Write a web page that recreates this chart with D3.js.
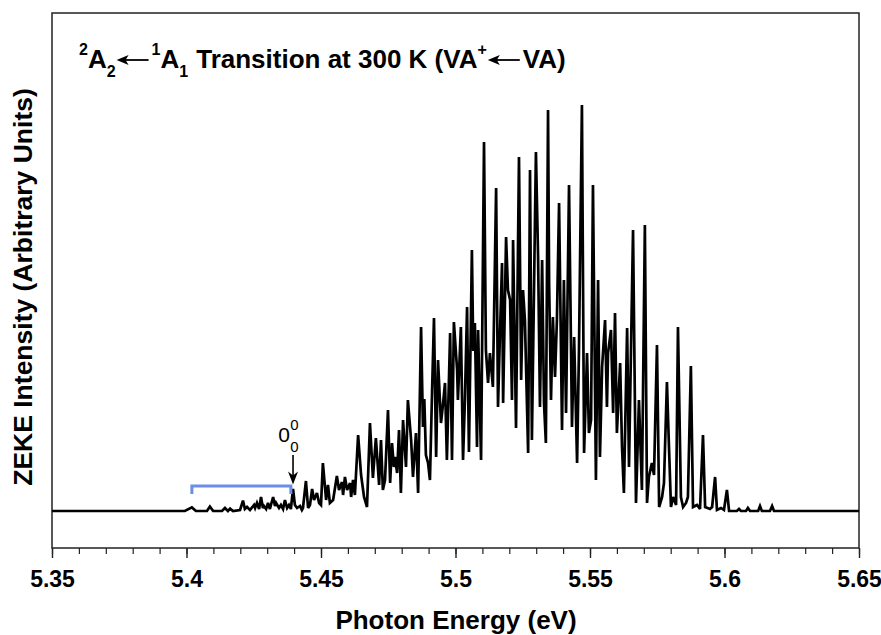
<!DOCTYPE html>
<html><head><meta charset="utf-8">
<script src="https://cdn.jsdelivr.net/npm/d3@7"></script>
<style>body{margin:0;background:#fff}svg{display:block}text{font-family:"Liberation Sans",Arial,sans-serif}</style>
</head><body><svg id="c" width="881" height="635"></svg>
<script>
// ---------- data ----------
const tickLabels = [5.35, 5.40, 5.45, 5.50, 5.55, 5.60, 5.65];
const minorTicks = [5.35,5.36,5.37,5.38,5.39,5.40,5.41,5.42,5.43,5.44,5.45,5.46,5.47,5.48,5.49,5.50,
                    5.51,5.52,5.53,5.54,5.55,5.56,5.57,5.58,5.59,5.60,5.61,5.62,5.63,5.64,5.65];
// spectrum segments: [photon energy (eV), ZEKE intensity (arb.)]
const hotBands = [[5.35,0],[5.3994,0],[5.4020,0.9],[5.4035,0],[5.4076,0],[5.4087,1.1],[5.4099,0],[5.4132,0],
  [5.4143,0.75],[5.4154,0],[5.4162,0.6],[5.4173,0],[5.4199,0.25],[5.4210,2.6],[5.4217,0.5],[5.4225,1.0],
  [5.4236,0.25],[5.4251,1.5],[5.4255,0.75],[5.4262,2.0],[5.4270,0.5],[5.4277,3.5],[5.4284,0.75],[5.4288,1.25],
  [5.4296,0.5],[5.4303,2.0],[5.4310,0.5],[5.4322,3.5],[5.4329,1.25],[5.4333,2.0],[5.4344,0.75],[5.4351,1.5],
  [5.4359,0.5],[5.4366,2.75],[5.4374,0.75],[5.4381,1.5],[5.4388,0.5]];
const riseBands = [[5.4396,5.5],[5.4403,1.5],[5.4411,0.75],[5.4422,1.25],[5.4429,0.25],[5.4433,0.75],[5.4444,7.5],
  [5.4452,0.75],[5.4459,1.5],[5.4467,5.5],[5.4474,2.75],[5.4485,4.5],[5.4493,2.0],
  [5.4500,1.5],[5.4507,12],[5.4519,2.75],[5.4526,6.5],[5.4533,2.0],[5.4545,2.75],[5.4559,8.75],[5.4567,5.25],
  [5.4578,7.25],[5.4582,4.0],[5.4589,8.5],[5.4597,5.25],[5.4608,7.0],[5.4612,3.5],[5.4619,7.75],[5.4626,4.0],
  [5.4638,19],[5.4649,9],[5.4660,3.5],[5.4671,1.0],[5.4682,22],[5.4693,8.25],[5.4704,18.25],[5.4716,6.5],
  [5.4723,17.75],[5.4730,5.25],[5.4738,7.75],[5.4749,25.25],[5.4757,7.0],[5.4764,17],[5.4771,11],[5.4775,13.5],
  [5.4783,9.5],[5.4790,20.25],[5.4797,4.5],[5.4805,22.75],[5.4816,11],[5.4823,27.75],[5.4835,17.75],[5.4842,8.5],
  [5.4853,19.5],[5.4861,4.5],[5.4872,46],[5.4879,21],[5.4884,28],[5.4890,14],[5.4898,12],[5.4905,7.75],[5.4913,30.25],
  [5.4920,48.25],[5.4928,13.5],[5.4935,37.75],[5.4946,22],[5.4954,27],[5.4961,32],[5.4968,12.75],[5.4980,44.5],
  [5.4987,12.75],[5.4994,47.25]];
const coreBands = [[5.5006,35.25],[5.5009,27.75],[5.5020,46],[5.5028,12.75],[5.5035,27.75],[5.5043,51],[5.5050,14.75],
  [5.5061,65.25],[5.5066,40],[5.5072,47],[5.5080,16],[5.5084,45.25],[5.5095,12.75],[5.5106,92.25],[5.5113,40.25],[5.5121,32],
  [5.5128,39.5],[5.5139,31],[5.5151,80.75],[5.5158,26],[5.5165,43.5],[5.5173,62],[5.5177,27],[5.5188,68.5],
  [5.5195,55.25],[5.5203,52.75],[5.5210,27.75],[5.5214,67.75],[5.5225,20.75],[5.5236,88.5],[5.5244,32.75],
  [5.5251,55.25],[5.5258,47.75],[5.5270,14.5],[5.5277,85.25],[5.5284,17.75],[5.5299,89.75],[5.5307,63.5],
  [5.5314,26],[5.5322,62.75],[5.5329,27],[5.5336,17],[5.5344,100.25],[5.5348,57],[5.5355,27.75],[5.5362,48.5],
  [5.5370,33.5],[5.5377,47.75],[5.5385,77],[5.5396,20.25],[5.5403,57.75],[5.5411,24.5],[5.5422,81.5],[5.5433,21],
  [5.5441,43.5],[5.5452,12],[5.5459,40.25],[5.5470,101.5],[5.5478,14.5],[5.5489,39.5],[5.5496,19.5]];
const fallBands = [[5.5504,22.75],[5.5511,81.5],[5.5522,7.75],[5.5530,57.75],[5.5537,13.5],[5.5545,36],[5.5556,47.75],
  [5.5563,26],[5.5567,39.5],[5.5578,45.25],[5.5586,24.5],[5.5593,49.5],[5.5600,19.5],[5.5612,37],[5.5619,16],
  [5.5626,4.5],[5.5638,45.75],[5.5645,11],[5.5660,70.25],[5.5671,2.0],[5.5682,27.75],[5.5693,5.25],[5.5704,71.5],
  [5.5712,2.0],[5.5719,8.5],[5.5730,12],[5.5738,9],[5.5749,41.5],[5.5757,1.0],[5.5768,3.5],[5.5775,7.0],
  [5.5786,32.25],[5.5794,15.25],[5.5801,1.0],[5.5809,3.5],[5.5820,1.5],[5.5827,46],[5.5838,3.5],[5.5846,1.0],
  [5.5857,2.0],[5.5864,3.5],[5.5875,36.25],[5.5883,1.0],[5.5898,1.5],[5.5909,0.5],[5.5920,19],[5.5928,1.0],
  [5.5946,0.5],[5.5954,1.0],[5.5965,8.5],[5.5972,0.25],[5.5987,0.75]];
const tailBands = [[5.5998,0.25],[5.6009,5.25],[5.6017,0],[5.6046,0],[5.6054,0.5],[5.6061,0],[5.6080,0],[5.6087,0.75],
  [5.6095,0],[5.6125,0],[5.6132,1.25],[5.6139,0],[5.6169,0],[5.6177,1.25],[5.6184,0],[5.65,0]];
// annotations
const bracketEnergies = [5.4020, 5.4388];
const bracketLevels = [4.25, 6.25];
const originEnergy = 5.4396;
const originArrow = [14.0, 6.6];

// ---------- drawing ----------
const svg = d3.select("#c");
svg.append("rect").attr("width",881).attr("height",635).attr("fill","#fff");
const L = 52, R = 859, T = 13, B = 548;
const x = d3.scaleLinear().domain([5.35, 5.65]).range([L, R]);
const y = d3.scaleLinear().domain([-9.25, 124.5]).range([B, T]);

svg.append("rect").attr("x",L).attr("y",T).attr("width",R-L).attr("height",B-T)
  .attr("fill","none").attr("stroke","#222").attr("stroke-width",1.5);

const minorAxis = svg.append("g").attr("transform",`translate(0,${B})`)
  .call(d3.axisBottom(x).tickValues(minorTicks).tickSize(6).tickFormat(""));
minorAxis.select(".domain").remove();
minorAxis.selectAll("line").attr("stroke","#222").attr("stroke-width",1.2);

const majorAxis = svg.append("g").attr("transform",`translate(0,${B})`)
  .call(d3.axisBottom(x).tickValues(tickLabels).tickSize(10).tickPadding(13).tickFormat(d3.format("~g")));
majorAxis.select(".domain").remove();
majorAxis.selectAll("line").attr("stroke","#222").attr("stroke-width",1.4);
majorAxis.selectAll("text").attr("font-family","'Liberation Sans',Arial,sans-serif")
  .attr("font-size",23).attr("font-weight","bold").attr("fill","#000");

svg.append("text").attr("x",456).attr("y",629).attr("text-anchor","middle")
  .attr("font-size",26).attr("font-weight","bold").text("Photon Energy (eV)");
svg.append("text").attr("transform",`translate(32,287) rotate(-90)`).attr("text-anchor","middle")
  .attr("font-size",26.5).attr("font-weight","bold").text("ZEKE Intensity (Arbitrary Units)");

// spectrum
const spectrum = [].concat(hotBands, riseBands, coreBands, fallBands, tailBands);
svg.append("path").datum(spectrum)
  .attr("d", d3.line().x(d => x(d[0])).y(d => y(d[1])))
  .attr("fill","none").attr("stroke","#000").attr("stroke-width",2.7)
  .attr("stroke-linejoin","miter").attr("stroke-miterlimit",3);

// blue bracket
svg.append("path")
  .attr("d", d3.line()([[x(bracketEnergies[0]), y(bracketLevels[0])],[x(bracketEnergies[0]), y(bracketLevels[1])],
                        [x(bracketEnergies[1]), y(bracketLevels[1])],[x(bracketEnergies[1]), y(bracketLevels[0])]]))
  .attr("fill","none").attr("stroke","#6b8ee8").attr("stroke-width",3);

// origin arrow + label
const ox = x(originEnergy);
svg.append("line").attr("x1",ox).attr("x2",ox).attr("y1",y(originArrow[0])).attr("y2",y(originArrow[1])-6)
  .attr("stroke","#000").attr("stroke-width",1.6);
svg.append("path").attr("d",`M${ox},${y(originArrow[1])} L${ox-5},${y(originArrow[1])-13} L${ox},${y(originArrow[1])-9} L${ox+5},${y(originArrow[1])-13} Z`)
  .attr("fill","#000");
svg.append("text").attr("x",ox-9).attr("y",442).attr("text-anchor","middle").attr("font-size",21).text("0");
svg.append("text").attr("x",ox+1.5).attr("y",430).attr("text-anchor","middle").attr("font-size",15).text("0");
svg.append("text").attr("x",ox+1.5).attr("y",452).attr("text-anchor","middle").attr("font-size",15).text("0");

// title
let cx = 79; const base = 68;
function piece(txt, size, dy) {
  const t = svg.append("text").attr("x",cx).attr("y",base+dy).attr("font-size",size)
    .attr("font-weight","bold").text(txt);
  cx += t.node().getComputedTextLength();
}
function arrow(w) {
  const ay = base - 8;
  svg.append("line").attr("x1",cx+8).attr("x2",cx+w).attr("y1",ay).attr("y2",ay)
    .attr("stroke","#000").attr("stroke-width",1.8);
  svg.append("path").attr("d",`M${cx},${ay} L${cx+12},${ay-5} L${cx+9},${ay} L${cx+12},${ay+5} Z`).attr("fill","#000");
  cx += w + 3;
}
piece("2",16,-13); piece("A",26,0); piece("2",16,9); cx += 1;
arrow(32);
piece("1",16,-13); piece("A",26,0); piece("1",16,9); cx += 8;
piece("Transition at 300 K (VA",26,0); piece("+",16,-13); cx += 1;
arrow(32);
piece("VA)",26,0);
</script></body></html>
